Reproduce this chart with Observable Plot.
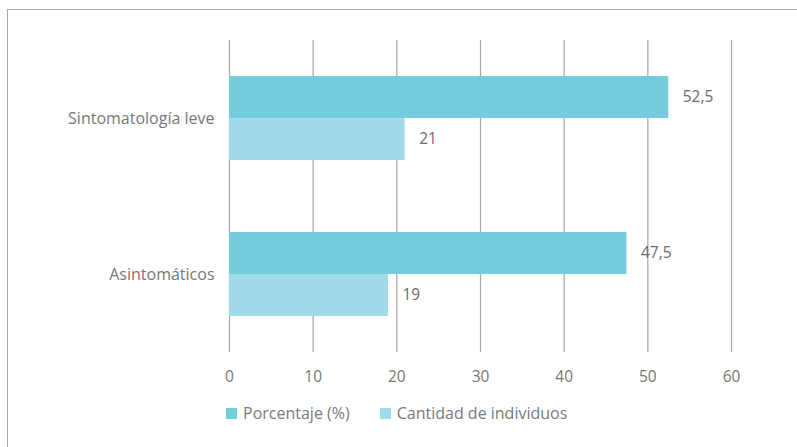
<!DOCTYPE html>
<html>
<head>
<meta charset="utf-8">
<script src="https://cdn.jsdelivr.net/npm/d3@7"></script>
<script src="https://cdn.jsdelivr.net/npm/@observablehq/plot@0.6"></script>
<style>
  html, body { margin: 0; padding: 0; background: #fff; }
  body { width: 797px; height: 447px; position: relative; overflow: hidden; font-family: "Open Sans", sans-serif; }
  #frame { position: absolute; left: 7px; top: 9px; width: 800px; height: 450px; border-left: 1.5px solid #aaa; border-top: 1.5px solid #aaa; box-sizing: border-box; }
  #chart { position: absolute; left: 0; top: 0; }
  #legend { position: absolute; left: 226px; top: 402px; display: flex; align-items: center; font-size: 16px; color: #7a7a7a; }
  .item { display: flex; align-items: center; margin-right: 30px; }
  .sw { width: 11px; height: 11px; margin-right: 6px; }
</style>
</head>
<body>
<div id="frame"></div>
<div id="chart"></div>
<div id="legend"></div>
<script>
const categories = ["Sintomatología leve", "Asintomáticos"];
const series = ["Porcentaje (%)", "Cantidad de individuos"];
const porcentaje = [52.5, 47.5];
const cantidad = [21, 19];
const xTicks = [0, 10, 20, 30, 40, 50, 60];
const colors = ["#73cddd", "#a1dbea"];

const data = [];
categories.forEach((c, i) => {
  data.push({category: c, series: series[0], value: porcentaje[i]});
  data.push({category: c, series: series[1], value: cantidad[i]});
});

const fmt = v => String(v).replace(".", ",");

const chart = Plot.plot({
  width: 797,
  height: 395,
  marginTop: 40,
  marginBottom: 43,
  marginLeft: 229,
  marginRight: 66,
  style: {fontFamily: "'Open Sans', sans-serif", fontSize: "15px", color: "#777", background: "transparent"},
  x: {domain: [0, 60], label: null},
  y: {domain: series, paddingInner: 0, paddingOuter: 0.857, axis: null, label: null},
  fy: {domain: categories, padding: 0, label: null},
  color: {domain: series, range: colors},
  marks: [
    Plot.ruleX(xTicks, {stroke: "#a6a6a6", strokeWidth: 1.2}),
    Plot.barX(data, {x: "value", y: "series", fy: "category", fill: "series"}),
    Plot.text(data, {x: "value", y: "series", fy: "category", text: d => fmt(d.value), textAnchor: "start", dx: 14, fill: "#6b6b6b", fontSize: 15.5}),
    Plot.axisX(xTicks, {tickSize: 0, tickPadding: 18, fill: "#777", fontSize: 15.5}),
    Plot.axisFy({tickSize: 0, tickPadding: 15, anchor: "left", fill: "#777", fontSize: 16})
  ]
});
document.getElementById("chart").appendChild(chart);

const legend = document.getElementById("legend");
series.forEach((s, i) => {
  const item = document.createElement("div");
  item.className = "item";
  const sw = document.createElement("div");
  sw.className = "sw";
  sw.style.background = colors[i];
  const t = document.createElement("span");
  t.textContent = s;
  item.appendChild(sw);
  item.appendChild(t);
  legend.appendChild(item);
});
</script>
</body>
</html>
